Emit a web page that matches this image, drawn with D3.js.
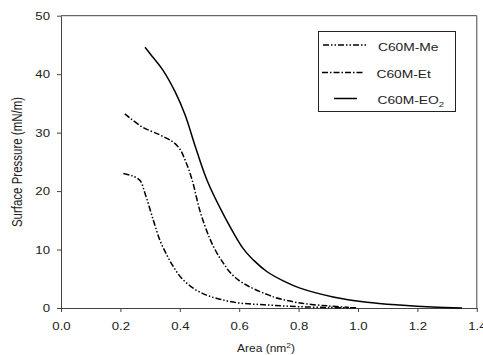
<!DOCTYPE html>
<html>
<head>
<meta charset="utf-8">
<script src="https://cdn.jsdelivr.net/npm/d3@7"></script>
<style>
  body { margin: 0; background: #fff; }
  svg { display: block; font-family: "Liberation Sans", Arial, sans-serif; }
</style>
</head>
<body>
<svg width="483" height="355"></svg>
<script>
// isotherm data (area nm^2, pressure mN/m)
let meArea = [0.21, 0.24, 0.266, 0.283, 0.311, 0.333, 0.356, 0.378, 0.406, 0.445, 0.49, 0.535, 0.592, 0.65, 0.70, 0.75, 0.80, 0.90, 1.00]
let mePress = [23.0, 22.6, 21.8, 19.6, 15.0, 11.6, 9.1, 7.1, 5.1, 3.4, 2.2, 1.5, 0.9, 0.65, 0.5, 0.35, 0.22, 0.08, 0.02]

let etArea = [0.215, 0.232, 0.276, 0.333, 0.377, 0.40, 0.418, 0.441, 0.468, 0.50, 0.525, 0.545, 0.569, 0.60, 0.636, 0.70, 0.727, 0.805, 0.90, 0.97]
let etPress = [33.2, 32.5, 30.9, 29.6, 28.4, 27.2, 25.3, 22.0, 16.6, 12.0, 9.4, 7.8, 6.1, 4.7, 3.6, 2.2, 1.7, 0.85, 0.35, 0.1]

let eoArea = [0.283, 0.30, 0.343, 0.384, 0.418, 0.451, 0.492, 0.545, 0.613, 0.65, 0.694, 0.75, 0.805, 0.916, 1.03, 1.14, 1.25, 1.35]
let eoPress = [44.6, 43.5, 40.7, 37.0, 33.0, 27.8, 21.8, 16.2, 10.2, 8.1, 6.2, 4.6, 3.4, 1.9, 1.0, 0.5, 0.15, 0.0]

let xTicks = [0, 0.2, 0.4, 0.6, 0.8, 1.0, 1.2, 1.4]
let yTicks = [0, 10, 20, 30, 40, 50]

let seriesNames = ['C60M-Me', 'C60M-Et', 'C60M-EO']
let dashes = ['6,2,1.5,2,1.5,2', '6,2,1.5,2', null]

let series = [
  meArea.map((a, i) => ({ x: a, y: mePress[i] })),
  etArea.map((a, i) => ({ x: a, y: etPress[i] })),
  eoArea.map((a, i) => ({ x: a, y: eoPress[i] }))
]

const width = 483
const height = 355
const margin = { top: 15.7, right: 6.2, bottom: 47, left: 61 }
const sx = 1.2 // the picture's text is stretched sideways

let x = d3.scaleLinear().domain([0, 1.4]).range([margin.left, width - margin.right])
let y = d3.scaleLinear().domain([0, 50]).range([height - margin.bottom, margin.top])

const svg = d3.select('svg')

// frame top + right
svg.append('path')
  .attr('d', `M${x(0)},${y(50)}H${x(1.4)}V${y(0)}`)
  .attr('fill', 'none')
  .attr('stroke', '#444')

let xAxis = svg.append('g')
  .attr('transform', `translate(0,${y(0)})`)
  .call(d3.axisBottom(x).tickValues(xTicks).tickFormat(d3.format('.1f')).tickSize(4).tickPadding(10).tickSizeOuter(0))
let yAxis = svg.append('g')
  .attr('transform', `translate(${x(0)},0)`)
  .call(d3.axisLeft(y).tickValues(yTicks).tickSize(4).tickPadding(7).tickSizeOuter(0))

;[xAxis, yAxis].forEach(g => {
  g.attr('font-family', null).attr('font-size', null)
  g.select('.domain').attr('stroke', '#444')
  g.selectAll('line').attr('stroke', '#444')
  g.selectAll('text').attr('fill', '#222').style('font-size', '11px')
})
xAxis.selectAll('text').attr('transform', `scale(${sx},1)`)
yAxis.selectAll('text').attr('x', -11 / sx).attr('transform', `scale(${sx},1)`)

// curves
let line = d3.line().x(d => x(d.x)).y(d => y(d.y)).curve(d3.curveCatmullRom.alpha(0.5))
svg.append('g')
  .selectAll('path')
  .data(series)
  .enter()
  .append('path')
  .attr('d', line)
  .attr('fill', 'none')
  .attr('stroke', '#000')
  .attr('stroke-width', 1.5)
  .attr('stroke-dasharray', (d, i) => dashes[i])

// axis titles
let xt = svg.append('text')
  .attr('transform', `translate(266,352) scale(${sx},1)`)
  .attr('text-anchor', 'middle')
  .style('font-size', '10px')
  .attr('fill', '#222')
xt.append('tspan').text('Area (nm')
xt.append('tspan').text('2').attr('dy', -4).style('font-size', '7px')
xt.append('tspan').text(')').attr('dy', 4)

svg.append('text')
  .attr('transform', `translate(21.5,162) scale(${sx},1) rotate(-90)`)
  .attr('text-anchor', 'middle')
  .style('font-size', '11.5px')
  .attr('fill', '#222')
  .text('Surface Pressure (mN/m)')

// legend
let legend = svg.append('g')
legend.append('rect')
  .attr('x', 318.5).attr('y', 31.5).attr('width', 137).attr('height', 80)
  .attr('fill', '#fff').attr('stroke', '#222')

let legY = [45, 72.5, 98.5]
let legX1 = [323, 322, 334]
let legX2 = [367, 364, 357]
let legTx = [378, 376.5, 377.5]
seriesNames.forEach((name, i) => {
  legend.append('line')
    .attr('x1', legX1[i]).attr('x2', legX2[i])
    .attr('y1', legY[i]).attr('y2', legY[i])
    .attr('stroke', '#000').attr('stroke-width', 1.5)
    .attr('stroke-dasharray', dashes[i])
  let t = legend.append('text')
    .attr('transform', `translate(${legTx[i]},${legY[i] + 5.5}) scale(${sx},1)`)
    .style('font-size', '11.5px')
    .attr('fill', '#222')
  t.append('tspan').text(name)
  if (i === 2) t.append('tspan').text('2').attr('dy', 3).style('font-size', '8px')
})
</script>
</body>
</html>
